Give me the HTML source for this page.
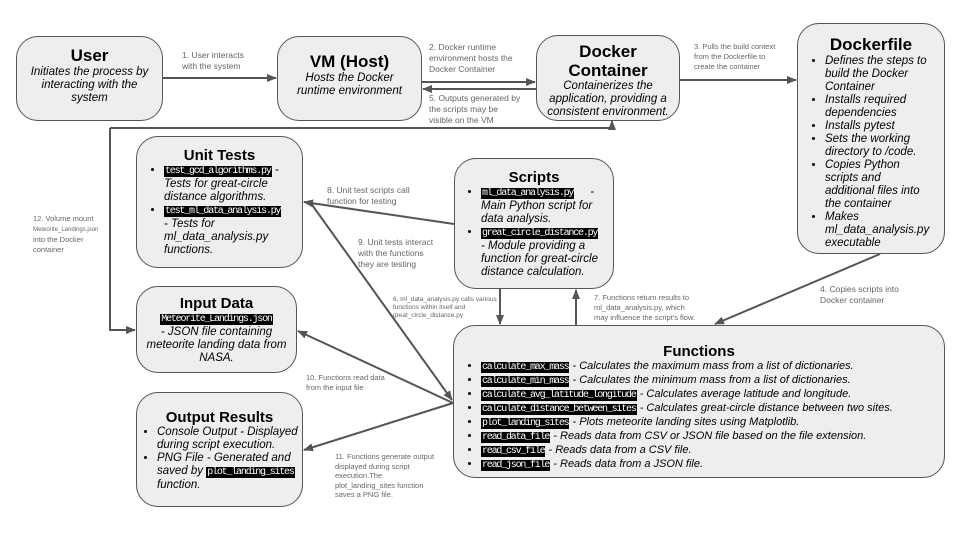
<!DOCTYPE html>
<html><head><meta charset="utf-8"><style>
body{margin:0;width:960px;height:540px;background:#fff;position:relative;overflow:hidden;font-family:"Liberation Sans",sans-serif;}
.b{position:absolute;background:#eeeeee;border:1.3px solid #555;border-radius:22px;box-sizing:border-box;color:#000;}
.t{font-weight:bold;text-align:center;}
.i{font-style:italic;}
.c{font-family:"Liberation Mono",monospace;background:#000;color:#fff;font-style:normal;font-size:10px;padding:0 1px;letter-spacing:-1.2px;}
ul{margin:0;padding-left:22px;}
li{margin:0;}
.l{position:absolute;color:#666;font-size:8.5px;line-height:11px;}
svg{position:absolute;left:0;top:0;}
</style></head><body>
<svg width="960" height="540">
<defs><marker id="a" markerWidth="10" markerHeight="8" refX="9" refY="4" orient="auto" markerUnits="userSpaceOnUse"><path d="M0,0L10,4L0,8z" fill="#555"/></marker></defs>
<g stroke="#555" stroke-width="2" fill="none" marker-end="url(#a)">
<line x1="163" y1="78" x2="276" y2="78"/>
<line x1="422" y1="82" x2="535" y2="82"/>
<line x1="536" y1="89" x2="423" y2="89"/>
<line x1="680" y1="80" x2="796" y2="80"/>
<polyline points="110,128 612,128 612,121" />
<polyline points="110,128 110,330 135,330"/>
<line x1="880" y1="254" x2="715" y2="324"/>
<line x1="500" y1="289" x2="500" y2="324"/>
<line x1="576" y1="325" x2="576" y2="290"/>
<line x1="454" y1="224" x2="304" y2="202"/>
<line x1="310" y1="202" x2="452" y2="400"/>
<line x1="453" y1="403" x2="298" y2="331"/>
<line x1="453" y1="403" x2="304" y2="450"/>
</g></svg>

<div class="b" style="left:16px;top:36px;width:147px;height:85px;padding:9px 12px 0;text-align:center;">
<div class="t" style="font-size:17px;line-height:20px;">User</div>
<div class="i" style="font-size:11.5px;line-height:13px;">Initiates the process by interacting with the system</div></div>

<div class="b" style="left:277px;top:36px;width:145px;height:85px;padding:15px 14px 0;text-align:center;">
<div class="t" style="font-size:17px;line-height:20px;">VM (Host)</div>
<div class="i" style="font-size:11.5px;line-height:13px;">Hosts the Docker runtime environment</div></div>

<div class="b" style="left:536px;top:35px;width:144px;height:86px;padding:6px 8px 0;text-align:center;">
<div class="t" style="font-size:17px;line-height:19px;">Docker<br>Container</div>
<div class="i" style="font-size:11.5px;line-height:13px;">Containerizes the application, providing a consistent environment.</div></div>

<div class="b" style="left:797px;top:23px;width:148px;height:231px;padding:11px 12px 0 0;">
<div class="t" style="font-size:17px;padding-left:12px;">Dockerfile</div>
<ul class="i" style="font-size:11.5px;line-height:13px;padding-left:27px;">
<li>Defines the steps to build the Docker Container</li><li>Installs required dependencies</li><li>Installs pytest</li><li>Sets the working directory to /code.</li><li>Copies Python scripts and additional files into the container</li><li>Makes ml_data_analysis.py executable</li></ul></div>

<div class="b" style="left:136px;top:136px;width:167px;height:132px;padding:10px 14px 0 0;">
<div class="t" style="font-size:15px;padding-left:14px;">Unit Tests</div>
<ul class="i" style="font-size:11.5px;line-height:13px;padding-left:27px;">
<li><span class="c">test_gcd_algorithms.py</span> - Tests for great-circle distance algorithms.</li>
<li><span class="c">test_ml_data_analysis.py</span> - Tests for ml_data_analysis.py functions.</li></ul></div>

<div class="b" style="left:454px;top:158px;width:160px;height:131px;padding:10px 8px 0 0;">
<div class="t" style="font-size:15px;padding-left:8px;">Scripts</div>
<ul class="i" style="font-size:11.5px;line-height:13px;padding-left:26px;">
<li><span class="c">ml_data_analysis.py</span> &nbsp;&nbsp;&nbsp;&nbsp;- Main Python script for data analysis.</li>
<li><span class="c">great_circle_distance.py</span> - Module providing a function for great-circle distance calculation.</li></ul></div>

<div class="b" style="left:136px;top:286px;width:161px;height:87px;padding-top:8px;text-align:center;">
<div class="t" style="font-size:15px;line-height:17px;">Input Data</div>
<div class="i" style="font-size:11.5px;line-height:13px;"><span class="c">Meteorite_Landings.json</span><br>- JSON file containing meteorite landing data from NASA.</div></div>

<div class="b" style="left:136px;top:392px;width:167px;height:115px;padding-top:16px;">
<div class="t" style="font-size:15px;">Output Results</div>
<ul class="i" style="font-size:11.5px;line-height:13px;padding-left:20px;">
<li>Console Output - Displayed during script execution.</li>
<li>PNG File - Generated and saved by <span class="c">plot_landing_sites</span> function.</li></ul></div>

<div class="b" style="left:453px;top:325px;width:492px;height:153px;padding-top:17px;">
<div class="t" style="font-size:15px;text-align:center;">Functions</div>
<ul class="i" style="font-size:11px;line-height:13px;padding-left:27px;">
<li><span class="c">calculate_max_mass</span> - Calculates the maximum mass from a list of dictionaries.</li>
<li><span class="c">calculate_min_mass</span> - Calculates the minimum mass from a list of dictionaries.</li>
<li><span class="c">calculate_avg_latitude_longitude</span> - Calculates average latitude and longitude.</li>
<li><span class="c">calculate_distance_between_sites</span> - Calculates great-circle distance between two sites.</li>
<li><span class="c">plot_landing_sites</span> - Plots meteorite landing sites using Matplotlib.</li>
<li><span class="c">read_data_file</span> - Reads data from CSV or JSON file based on the file extension.</li>
<li><span class="c">read_csv_file</span> - Reads data from a CSV file.</li>
<li><span class="c">read_json_file</span> - Reads data from a JSON file.</li></ul></div>

<div class="l" style="left:182px;top:50px;">1. User interacts<br>with the system</div>
<div class="l" style="left:429px;top:42px;">2. Docker runtime<br>environment hosts the<br>Docker Container</div>
<div class="l" style="left:429px;top:93px;">5. Outputs generated by<br>the scripts may be<br>visible on the VM</div>
<div class="l" style="left:694px;top:42px;font-size:7.5px;line-height:10px;">3. Pulls the build context<br>from the Dockerfile to<br>create the container</div>
<div class="l" style="left:820px;top:284px;">4. Copies scripts into<br>Docker container</div>
<div class="l" style="left:33px;top:214px;font-size:7.5px;line-height:9.5px;">12. Volume mount<br><span style="font-size:6px;">Meteorite_Landings.json</span><br>into the Docker<br>container</div>
<div class="l" style="left:327px;top:185px;">8. Unit test scripts call<br>function for testing</div>
<div class="l" style="left:358px;top:237px;">9. Unit tests interact<br>with the functions<br>they are testing</div>
<div class="l" style="left:393px;top:296px;font-size:6.5px;line-height:8px;">6. ml_data_analysis.py calls various<br>functions within itself and<br>great_circle_distance.py</div>
<div class="l" style="left:594px;top:293px;font-size:7.5px;line-height:10px;">7. Functions return results to<br>ml_data_analysis.py, which<br>may influence the script's flow.</div>
<div class="l" style="left:306px;top:373px;font-size:7.5px;line-height:10px;">10. Functions read data<br>from the input file</div>
<div class="l" style="left:335px;top:452px;font-size:7.5px;line-height:9.6px;">11. Functions generate output<br>displayed during script<br>execution.The<br>plot_landing_sites function<br>saves a PNG file.</div>
</body></html>
